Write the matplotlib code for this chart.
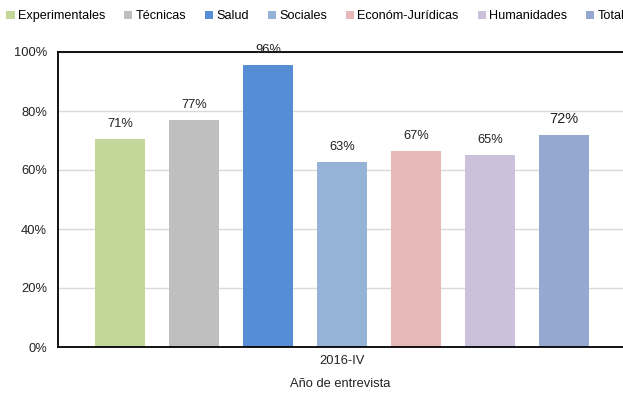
import matplotlib
matplotlib.use("Agg")
import matplotlib.pyplot as plt
from matplotlib.patches import Patch

plt.rcParams['font.family'] = ['Liberation Sans', 'DejaVu Sans']

categories = ["Experimentales", "Técnicas", "Salud", "Sociales", "Económ-Jurídicas", "Humanidades", "Total"]
values = [70.6, 77.0, 95.6, 62.6, 66.6, 65.2, 72.0]
labels = ["71%", "77%", "96%", "63%", "67%", "65%", "72%"]
colors = ["#C4D79B", "#BFBFBF", "#558ED5", "#95B3D7", "#E6B9B8", "#CCC1DA", "#95A9D0"]
group_label = "2016-IV"
xlabel = "Año de entrevista"
yticks = [0, 20, 40, 60, 80, 100]

fig = plt.figure(figsize=(6.23, 3.94), dpi=100)
ax = fig.add_axes([58/623, 1-347/394, 1-58/623, 295/394])

n = len(values)
positions = [i - (n - 1) / 2 for i in range(n)]
bars = ax.bar(positions, values, width=0.676, color=colors, zorder=2)
for i, (p, v, lab) in enumerate(zip(positions, values, labels)):
    fs = 10.5 if i == n - 1 else 9.3
    ax.text(p, v + 3.0, lab, ha='center', va='bottom', fontsize=fs, color='#222222')

ax.set_ylim(0, 100)
ax.set_xlim(-3.84, 3.80)
ax.set_yticks(yticks)
ax.set_yticklabels([f"{t}%" for t in yticks], fontsize=9.3, color='#222222')
ax.set_xticks([0])
ax.set_xticklabels([group_label], fontsize=9.3, color='#222222')
ax.tick_params(length=0, pad=8)
ax.tick_params(axis='x', pad=6)
ax.set_xlabel(xlabel, fontsize=9.3, color='#222222', labelpad=8)
ax.yaxis.grid(True, color='#D9D9D9', linewidth=1, zorder=0)
ax.set_axisbelow(True)
for s in ['left', 'top', 'bottom']:
    ax.spines[s].set_color('black')
    ax.spines[s].set_linewidth(1.3)
ax.spines['right'].set_visible(False)

handles = [Patch(facecolor=c, edgecolor='none', label=l) for c, l in zip(colors, categories)]
fig.legend(handles=handles, loc='upper left', bbox_to_anchor=(0.0, 0.99), ncol=7, frameon=False,
           fontsize=9.1, handlelength=0.65, handleheight=0.65, handletextpad=0.25, columnspacing=1.5,
           borderaxespad=0.2, borderpad=0.3)

fig.savefig("out.png", dpi=100)
